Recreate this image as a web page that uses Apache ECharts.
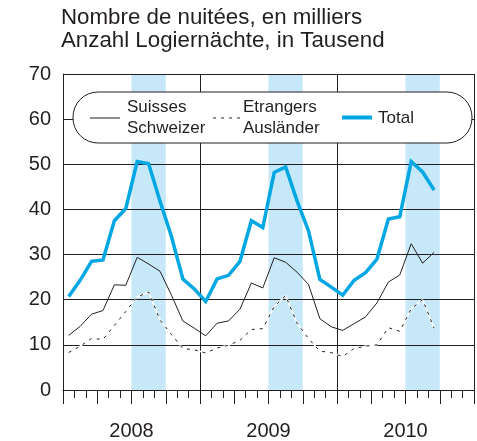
<!DOCTYPE html>
<html>
<head>
<meta charset="utf-8">
<script src="https://cdn.jsdelivr.net/npm/echarts@6/dist/echarts.min.js"></script>
<style>
  html, body { margin: 0; padding: 0; background: #fff; }
  #chart { width: 477px; height: 441px; }
</style>
</head>
<body>
<div id="chart"></div>
<script>
// Jan 2008 .. Sep 2010, one value per month
let months = [
  "2008-01", "2008-02", "2008-03", "2008-04", "2008-05", "2008-06",
  "2008-07", "2008-08", "2008-09", "2008-10", "2008-11", "2008-12",
  "2009-01", "2009-02", "2009-03", "2009-04", "2009-05", "2009-06",
  "2009-07", "2009-08", "2009-09", "2009-10", "2009-11", "2009-12",
  "2010-01", "2010-02", "2010-03", "2010-04", "2010-05", "2010-06",
  "2010-07", "2010-08", "2010-09",
];
let swiss = [
  12.1, 14.1, 16.8, 17.6, 23.3, 23.2, 29.4, 27.9, 26.3, 21.0, 15.3, 13.7,
  12.0, 14.8, 15.3, 17.9, 23.7, 22.6, 29.3, 28.3, 26.1, 23.4, 15.8, 14.0,
  13.2, 14.7, 16.2, 19.3, 23.9, 25.5, 32.4, 28.1, 30.5,
];
let foreign = [
  8.3, 9.7, 11.4, 11.2, 14.3, 17.4, 20.6, 21.7, 15.5, 12.3, 9.2, 8.9,
  8.2, 9.3, 9.9, 11.0, 13.4, 13.6, 18.5, 20.9, 14.8, 11.4, 8.6, 8.3,
  7.4, 9.2, 9.7, 10.0, 13.8, 13.0, 18.0, 20.0, 13.7,
];
let total = [
  20.7, 24.3, 28.5, 28.8, 37.5, 40.2, 50.6, 50.1, 41.8, 34.0, 24.6, 22.4,
  19.6, 24.6, 25.4, 28.5, 37.5, 36.0, 48.2, 49.4, 41.9, 35.3, 24.5, 22.8,
  21.0, 24.3, 26.0, 29.0, 37.9, 38.4, 50.6, 48.3, 44.3,
];
let years = ["2008", "2009", "2010"];
// 3rd quarter of each year, as month index ranges
let summerBands = [[6, 9], [18, 21], [30, 33]];

let ink = "#231f20";
let blue = "#00a7e3";
let font = "'Liberation Sans', Arial, sans-serif";

function toPoints(arr) {
  return arr.map(function (v, i) {
    return [i + 0.5, v];
  });
}

let chart = echarts.init(document.getElementById("chart"));

let option = {
  animation: false,
  title: {
    text: "Nombre de nuitées, en milliers\nAnzahl Logiernächte, in Tausend",
    left: 61,
    top: 7,
    padding: 0,
    textStyle: {
      fontFamily: font,
      fontSize: 22.3,
      lineHeight: 22.5,
      fontWeight: "normal",
      color: ink,
    },
  },
  grid: {
    left: 63,
    top: 74,
    width: 416,
    bottom: 49,
  },
  xAxis: [
    {
      type: "value",
      position: "bottom",
      min: 0,
      max: 36,
      interval: 1,
      z: 3,
      axisLine: { show: true, lineStyle: { color: ink, width: 1 } },
      axisTick: { show: true, length: 8, lineStyle: { color: ink, width: 1 } },
      axisLabel: {
        show: true,
        margin: 31,
        fontFamily: font,
        fontSize: 20,
        color: ink,
        formatter: function (v) {
          if (v % 12 === 6) return years[(v - 6) / 12];
          return "";
        },
      },
      splitLine: { show: false },
    },
    {
      type: "value",
      position: "bottom",
      min: 0,
      max: 36,
      interval: 3,
      z: 3,
      axisLine: { show: false },
      axisTick: { show: true, length: 14, lineStyle: { color: ink, width: 1 } },
      axisLabel: { show: false },
      splitLine: { show: false },
    },
    {
      type: "value",
      position: "bottom",
      min: 0,
      max: 36,
      interval: 12,
      z: 3,
      axisLine: { show: false },
      axisTick: { show: false },
      axisLabel: { show: false },
      splitLine: { show: true, lineStyle: { color: ink, width: 1 } },
    },
  ],
  yAxis: {
    type: "value",
    min: 0,
    max: 70,
    interval: 10,
    z: 3,
    axisLine: { show: true, lineStyle: { color: ink, width: 1 } },
    axisTick: { show: false },
    axisLabel: {
      margin: 12,
      fontFamily: font,
      fontSize: 20,
      color: ink,
    },
    splitLine: { show: true, lineStyle: { color: ink, width: 1 } },
  },
  series: [
    {
      // white underlay so the dashed line shows white gaps on the blue bands
      name: "etr_bg",
      type: "line",
      data: toPoints(foreign),
      symbol: "none",
      silent: true,
      z: 4,
      lineStyle: { color: "#fff", width: 1.6 },
      markArea: {
        silent: true,
        itemStyle: { color: "#c6e8f8" },
        data: summerBands.map(function (b) {
          return [{ xAxis: b[0] }, { xAxis: b[1] }];
        }),
      },
    },
    {
      name: "Etrangers",
      type: "line",
      data: toPoints(foreign),
      symbol: "none",
      z: 5,
      lineStyle: { color: ink, width: 1, type: [3, 5] },
    },
    {
      name: "Suisses",
      type: "line",
      data: toPoints(swiss),
      symbol: "none",
      z: 5,
      lineStyle: { color: ink, width: 1 },
    },
    {
      name: "Total",
      type: "line",
      data: toPoints(total),
      symbol: "none",
      z: 6,
      lineStyle: { color: blue, width: 3.5, join: "miter" },
    },
  ],
  graphic: [
    {
      type: "rect",
      z: 100,
      shape: { x: 73, y: 92, width: 399, height: 51, r: 25 },
      style: { fill: "#fff", stroke: ink, lineWidth: 1 },
    },
    {
      type: "line",
      z: 101,
      shape: { x1: 90, y1: 118, x2: 120, y2: 118 },
      style: { stroke: ink, lineWidth: 1 },
    },
    {
      type: "text",
      z: 101,
      x: 127,
      y: 118,
      style: {
        text: "Suisses\nSchweizer",
        font: "17px " + font,
        lineHeight: 21.5,
        fill: ink,
        verticalAlign: "middle",
      },
    },
    {
      type: "line",
      z: 101,
      shape: { x1: 213, y1: 118, x2: 240, y2: 118 },
      style: { stroke: ink, lineWidth: 1, lineDash: [3, 5] },
    },
    {
      type: "text",
      z: 101,
      x: 243,
      y: 118,
      style: {
        text: "Etrangers\nAusländer",
        font: "17px " + font,
        lineHeight: 21.5,
        fill: ink,
        verticalAlign: "middle",
      },
    },
    {
      type: "line",
      z: 101,
      shape: { x1: 342, y1: 117.5, x2: 372, y2: 117.5 },
      style: { stroke: blue, lineWidth: 4 },
    },
    {
      type: "text",
      z: 101,
      x: 378,
      y: 118,
      style: {
        text: "Total",
        font: "17px " + font,
        fill: ink,
        verticalAlign: "middle",
      },
    },
  ],
};

chart.setOption(option);
</script>
</body>
</html>
